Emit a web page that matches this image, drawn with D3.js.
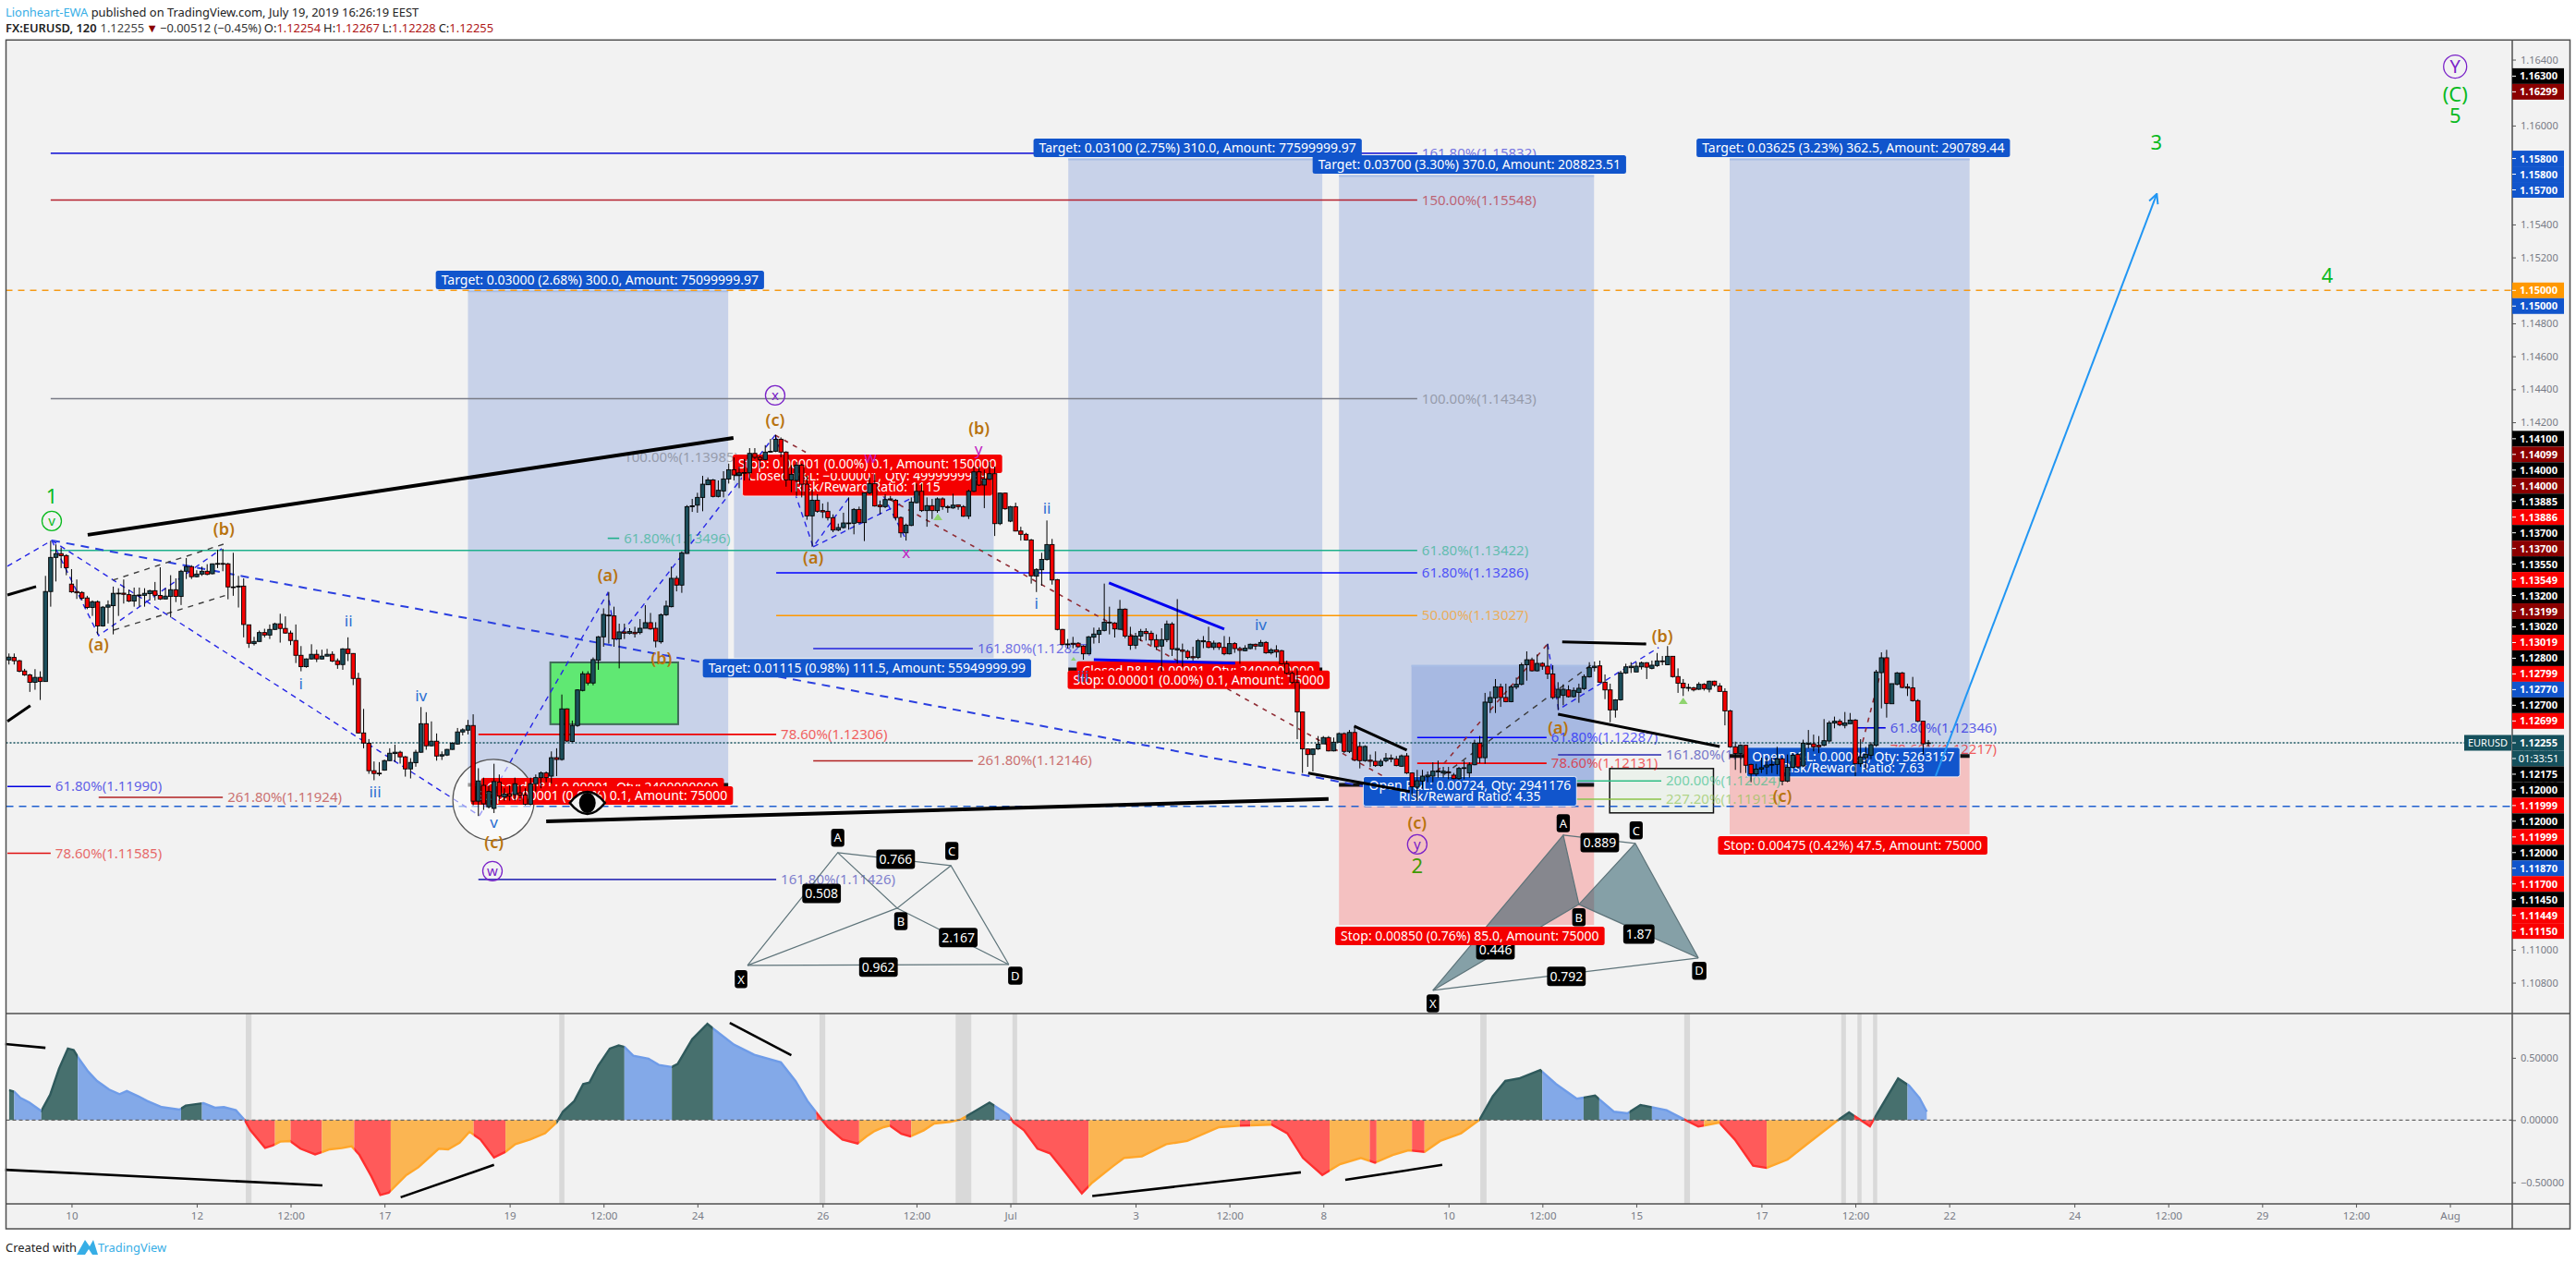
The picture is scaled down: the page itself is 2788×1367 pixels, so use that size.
<!DOCTYPE html>
<html><head><meta charset="utf-8">
<script src="https://d3js.org/d3.v7.min.js"></script>
<style>html,body{margin:0;background:#fff}svg{display:block}text{font-family:"Noto Sans",sans-serif}</style>
</head><body><svg id="c" width="2788" height="1367"></svg>
<script>
// Candle values: [open, high, low, close], in 0.00001 above 1.10000, one row per 2-hour bar
const ohlc=[
[2758,2797,2730,2775],[2773,2797,2730,2753],[2753,2758,2683,2689],[2691,2704,2661,2667],[2667,2674,2564,2622],[2622,2702,2577,2652],[2652,2689,2515,2627],[2627,3268,2627,3173],[3173,3481,3081,3380],[3380,3459,3234,3403],
[3403,3440,3315,3390],[3391,3399,3272,3317],[3218,3309,3165,3171],[3173,3246,3128,3165],[3167,3175,3119,3132],[3134,3147,3066,3076],[3076,3119,3025,3111],[3111,3119,2913,2964],[2964,3085,2960,3078],[3078,3119,2979,3091],
[3087,3203,2913,3162],[3160,3193,3025,3163],[3163,3246,3100,3156],[3154,3184,3109,3115],[3115,3197,3081,3150],[3148,3197,3081,3152],[3150,3193,3081,3162],[3160,3184,3119,3178],[3178,3231,3119,3150],[3149,3320,3122,3128],
[3128,3193,3128,3145],[3143,3272,3016,3184],[3184,3253,3109,3143],[3143,3305,3091,3296],[3296,3376,3249,3324],[3324,3333,3249,3263],[3263,3302,3259,3279],[3279,3324,3268,3296],[3296,3339,3272,3277],[3281,3343,3277,3341],
[3341,3427,3315,3343],[3343,3432,3296,3341],[3341,3347,3126,3201],[3201,3408,3147,3199],[3201,3268,3076,3206],[3206,3253,2895,2973],[2971,2972,2831,2859],[2857,2898,2846,2870],[2870,2936,2868,2924],[2924,2947,2895,2909],
[2909,2973,2885,2943],[2943,2984,2939,2977],[2977,3038,2863,2949],[2949,3022,2917,2921],[2921,2936,2848,2876],[2876,2973,2739,2786],[2786,2842,2689,2717],[2717,2767,2711,2764],[2764,2853,2760,2792],[2792,2820,2745,2764],
[2764,2820,2760,2781],[2781,2825,2779,2792],[2792,2810,2745,2751],[2753,2767,2704,2730],[2730,2829,2698,2825],[2825,2895,2751,2797],[2797,2799,2605,2646],[2646,2680,2312,2315],[2315,2461,2222,2254],[2252,2278,2067,2086],
[2086,2142,2028,2069],[2071,2138,2054,2067],[2089,2153,2086,2147],[2147,2222,2144,2192],[2190,2244,2138,2198],[2198,2207,2129,2170],[2170,2175,2050,2097],[2097,2162,2039,2136],[2134,2213,2110,2198],[2198,2472,2194,2371],
[2371,2441,2213,2237],[2237,2385,2233,2265],[2265,2312,2147,2175],[2175,2203,2151,2183],[2181,2218,2175,2215],[2215,2259,2213,2252],[2248,2345,2244,2321],[2321,2343,2300,2334],[2332,2394,2306,2360],[2360,2428,1876,1901],
[1901,2101,1811,2024],[1997,2044,1848,1885],[1867,1997,1857,1960],[1857,2128,1829,2020],[2016,2063,1904,1932],[1926,1979,1904,1945],[1945,1997,1904,1932],[1941,2044,1904,2007],[1951,1997,1904,1938],[1938,1979,1876,1882],
[1882,2044,1876,2007],[2007,2063,1960,2044],[2044,2081,1979,2072],[2072,2081,2016,2044],[2053,2203,2007,2165],[2165,2222,2053,2154],[2154,2548,2147,2461],[2461,2464,2259,2266],[2263,2390,2259,2360],[2360,2580,2352,2576],
[2573,2689,2567,2674],[2674,2689,2604,2618],[2618,2773,2604,2760],[2756,2903,2698,2898],[2898,3071,2838,3034],[3030,3170,2857,3025],[3025,3081,2838,2885],[2885,2978,2707,2928],[2928,2978,2885,2920],[2920,2950,2913,2931],
[2926,2959,2894,2917],[2924,3006,2913,2950],[2950,3090,2950,2984],[2984,3043,2941,2946],[2950,2987,2834,2872],[2868,3040,2857,3032],[3032,3118,3025,3085],[3081,3324,3077,3253],[3253,3268,3174,3212],[3212,3417,3165,3408],
[3404,3697,3402,3688],[3688,3735,3656,3693],[3697,3772,3651,3744],[3744,3875,3660,3824],[3821,3865,3819,3850],[3850,3856,3744,3750],[3750,3847,3744,3787],[3783,3903,3744,3856],[3856,3949,3828,3912],[3912,3987,3847,3880],
[3880,3931,3800,3893],[3893,3977,3847,3895],[3893,4043,3847,4011],[4011,4043,3977,3987],[3987,3996,3921,3974],[3974,4061,3968,4019],[4019,4099,4015,4024],[4024,4123,4019,4097],[4097,4108,3987,4019],[4019,4024,3809,3850],
[3850,3940,3776,3884],[3847,3959,3753,3940],[3940,3949,3744,3824],[3824,3875,3608,3632],[3632,3791,3445,3727],[3727,3763,3651,3660],[3664,3707,3619,3656],[3660,3716,3604,3621],[3621,3641,3533,3546],[3546,3585,3539,3561],
[3561,3651,3555,3589],[3589,3744,3548,3585],[3587,3679,3520,3671],[3671,3688,3585,3591],[3591,3772,3479,3772],[3772,3865,3763,3828],[3828,3884,3688,3692],[3697,3725,3641,3688],[3688,3763,3679,3731],[3735,3753,3727,3729],
[3727,3735,3604,3622],[3622,3628,3501,3529],[3529,3585,3482,3576],[3574,3744,3570,3716],[3712,3828,3707,3781],[3781,3828,3656,3664],[3664,3744,3566,3694],[3694,3735,3613,3664],[3664,3744,3651,3735],[3735,3744,3669,3688],
[3688,3697,3651,3682],[3680,3766,3675,3697],[3699,3701,3669,3688],[3688,3697,3626,3630],[3630,3791,3613,3781],[3781,3931,3776,3899],[3899,3931,3813,3819],[3819,3912,3679,3856],[3854,3959,3850,3888],[3888,3931,3510,3585],
[3585,3772,3576,3770],[3770,3772,3669,3675],[3600,3692,3594,3688],[3688,3712,3538,3540],[3540,3566,3482,3520],[3520,3529,3482,3486],[3486,3492,3221,3268],[3266,3314,3170,3307],[3305,3408,3208,3368],[3367,3604,3361,3458],
[3458,3492,3215,3243],[3245,3249,2937,2943],[2943,2946,2847,2851],[2855,2885,2829,2851],[2859,2898,2829,2853],[2859,2866,2834,2838],[2842,2847,2759,2795],[2795,2903,2791,2898],[2896,2954,2857,2915],[2913,2954,2860,2937],
[2937,3221,2931,2987],[2987,3081,2913,2982],[2982,2987,2894,2946],[2944,3122,2941,3066],[3066,3071,2890,2903],[2903,2959,2819,2847],[2847,2922,2825,2903],[2903,2946,2872,2931],[2931,2950,2875,2918],[2920,2935,2847,2879],
[2881,2913,2819,2838],[2842,2950,2688,2881],[2881,2997,2866,2976],[2976,2987,2782,2823],[2819,3127,2735,2827],[2819,2857,2717,2810],[2810,2819,2763,2773],[2778,2838,2754,2771],[2773,2885,2763,2875],[2868,2903,2829,2875],
[2868,2959,2829,2834],[2834,2875,2819,2860],[2860,2866,2819,2834],[2834,2903,2786,2795],[2795,2898,2791,2857],[2857,2866,2801,2827],[2827,2838,2735,2816],[2814,2847,2810,2829],[2827,2857,2823,2853],[2853,2857,2819,2842],
[2842,2879,2838,2864],[2864,2872,2795,2801],[2801,2829,2791,2819],[2819,2847,2773,2806],[2814,2819,2730,2735],[2735,2754,2670,2677],[2677,2688,2614,2621],[2621,2707,2277,2442],[2442,2445,2072,2218],[2218,2221,2109,2184],
[2184,2221,2081,2218],[2218,2296,2212,2247],[2249,2296,2249,2287],[2287,2296,2203,2206],[2206,2287,2203,2259],[2259,2318,2259,2311],[2311,2318,2193,2203],[2203,2333,2193,2318],[2318,2352,2147,2150],[2233,2259,2100,2147],
[2147,2240,2140,2233],[2150,2184,2109,2143],[2143,2203,2109,2117],[2117,2156,2109,2143],[2147,2193,2137,2162],[2163,2184,2137,2156],[2158,2175,2113,2117],[2113,2184,2109,2176],[2176,2193,2066,2072],[2072,2076,1932,1988],
[1986,2091,1904,2025],[2023,2091,1978,2053],[2049,2081,2016,2059],[2053,2137,2016,2083],[2079,2147,2044,2085],[2072,2109,2044,2083],[2079,2109,2034,2072],[2059,2072,2034,2038],[2038,2109,2031,2100],[2100,2147,2034,2104],
[2072,2137,2044,2122],[2122,2274,2119,2253],[2253,2296,2132,2165],[2165,2558,2128,2502],[2500,2567,2436,2530],[2528,2642,2436,2595],[2595,2614,2473,2530],[2530,2614,2501,2505],[2505,2604,2501,2595],[2593,2651,2580,2610],
[2610,2741,2604,2729],[2729,2810,2632,2759],[2759,2772,2688,2692],[2692,2791,2688,2737],[2737,2744,2698,2720],[2720,2856,2642,2673],[2673,2726,2520,2530],[2530,2623,2455,2580],[2543,2610,2483,2580],[2576,2604,2530,2535],
[2535,2591,2530,2573],[2561,2614,2498,2586],[2584,2670,2576,2657],[2655,2744,2651,2711],[2711,2748,2688,2720],[2722,2754,2619,2623],[2623,2670,2520,2576],[2576,2614,2380,2455],[2455,2520,2408,2516],[2516,2692,2511,2679],
[2679,2735,2673,2716],[2711,2744,2679,2720],[2685,2744,2685,2720],[2716,2748,2700,2741],[2741,2744,2642,2714],[2707,2754,2701,2726],[2724,2800,2716,2752],[2752,2782,2726,2748],[2729,2842,2726,2780],[2780,2782,2651,2657],
[2657,2707,2558,2617],[2617,2642,2539,2589],[2591,2614,2567,2586],[2589,2595,2567,2576],[2580,2623,2576,2610],[2610,2617,2572,2584],[2580,2632,2561,2629],[2629,2632,2595,2604],[2600,2617,2567,2567],[2567,2586,2361,2449],
[2449,2455,2225,2231],[2231,2262,2091,2190],[2190,2246,2072,2240],[2240,2240,2072,2119],[2124,2128,2016,2066],[2066,2128,2053,2096],[2096,2165,2072,2104],[2109,2165,2063,2120],[2120,2165,2072,2124],[2124,2231,2063,2158],
[2158,2165,1997,2023],[2023,2184,2016,2106],[2106,2193,2100,2180],[2184,2193,2100,2109],[2115,2274,2109,2253],[2246,2333,2221,2251],[2249,2305,2203,2231],[2240,2296,2193,2231],[2240,2399,2234,2268],[2266,2389,2259,2376],
[2375,2414,2343,2386],[2386,2399,2356,2365],[2361,2442,2343,2376],[2371,2436,2371,2393],[2393,2399,2053,2128],[2128,2277,2109,2169],[2165,2231,2091,2184],[2180,2259,2156,2244],[2240,2698,2231,2685],[2681,2804,2464,2771],
[2771,2819,2408,2494],[2492,2614,2492,2614],[2610,2685,2604,2679],[2679,2685,2586,2591],[2595,2614,2539,2587],[2589,2655,2505,2511],[2511,2520,2380,2386],[2386,2389,2184,2249],[2254,2272,2231,2255]];

// Oscillator line: [bar, value]
const oscPoints=[[0,.24],[1,.228],[2.2,.178],[3.9,.141],[6.2,.072],[7.9,.203],[9.6,.413],[11.3,.574],[12.4,.562],[13.5,.488],[15.2,.389],[16.9,.314],[19.2,.245],[21.2,.208],[22.6,.233],[24.8,.191],[26.5,.153],[29.3,.104],[32.7,.084],[33.9,.116],[37.3,.136],[39.5,.099],[41.2,.104],[43.5,.079],[45.2,0],[46.3,-.082],[49.1,-.223],[50.5,-.205],[52,-.173],[53.9,-.168],[55.9,-.23],[58.7,-.275],[60.2,-.255],[61.5,-.235],[63.8,-.225],[65.7,-.21],[67.2,-.28],[69.5,-.453],[71.2,-.601],[72.8,-.584],[76.2,-.441],[78.5,-.379],[82.4,-.23],[84.2,-.235],[86.4,-.181],[88.3,-.094],[90.4,-.156],[93,-.3],[95.2,-.255],[97.1,-.193],[99.9,-.156],[102.8,-.106],[105,-.02],[106.2,.067],[108.4,.153],[110.1,.29],[111.3,.302],[113,.438],[115.2,.574],[116.9,.599],[118,.587],[119.7,.517],[122.6,.493],[124.6,.443],[127.1,.426],[128.2,.45],[131,.649],[133.9,.772],[135,.735],[139,.606],[142.9,.525],[148,.463],[150.8,.314],[153.1,.153],[155.9,0],[157,-.057],[159.8,-.156],[162.7,-.188],[164.4,-.131],[166,-.087],[167.7,-.057],[168.9,-.045],[171.1,-.111],[172.8,-.131],[175.4,-.082],[177.4,-.027],[180.4,-.015],[182.5,.005],[184.5,.054],[188,.141],[191.6,.042],[192.6,-.02],[194.6,-.082],[197.2,-.23],[199.6,-.267],[202.7,-.428],[205.7,-.589],[207.7,-.502],[211.8,-.366],[213.8,-.304],[217.2,-.292],[221.9,-.193],[225.9,-.168],[232,-.057],[236,-.045],[242.1,-.037],[245.1,-.106],[248.1,-.304],[251.8,-.441],[255.2,-.354],[259.2,-.304],[261.9,-.342],[265.3,-.28],[268.3,-.243],[271.4,-.255],[274.4,-.168],[278.4,-.106],[281.9,0],[284.5,.191],[286.9,.314],[289.5,.334],[293.6,.401],[296.6,.29],[300.6,.171],[304.1,.196],[307.7,.067],[310.3,.054],[312.8,.121],[317.8,.079],[321.2,.005],[323.9,-.052],[327.9,-.02],[330.9,-.156],[334.4,-.366],[337,-.384],[341,-.317],[345.1,-.181],[350.7,0],[352.8,.062],[354.2,.022],[356.8,-.05],[358.2,.054],[362.2,.334],[364.3,.277],[366.3,.178],[367.7,.067]];
// Oscillator colour states: [from bar, to bar, state]
const oscStates=[[0,1,'d'],[1,6.2,'b'],[6.2,13.2,'d'],[13.2,33,'b'],[33,37,'d'],[37,45.2,'b'],[45.2,51,'r'],[51,54,'o'],[54,60,'r'],[60,66.2,'o'],[66.2,73.2,'r'],[73.2,89.1,'o'],[89.1,95.2,'r'],[95.2,105,'o'],[105,118,'d'],[118,127.1,'b'],[127.1,135,'d'],[135,154.8,'b'],[154.8,163,'r'],[163,168.9,'o'],[168.9,173,'r'],[173,183.5,'o'],[183.5,189,'d'],[189,192,'b'],[192,207,'r'],[207,236,'o'],[236,238,'r'],[238,242,'o'],[242,253.2,'r'],[253.2,260.9,'o'],[260.9,262.2,'r'],[262.2,269,'o'],[269,271.4,'r'],[271.4,281.9,'o'],[281.9,294,'d'],[294,301.9,'b'],[301.9,304.9,'d'],[304.9,310.7,'b'],[310.7,315,'d'],[315,321.2,'b'],[321.2,325,'r'],[325,328,'o'],[328,337,'r'],[337,350.7,'o'],[350.7,353.8,'d'],[353.8,357.6,'r'],[357.6,364,'d'],[364,368,'b']];
const oscBands=[[45.4,46.5],[105.5,106.5],[155.4,156.5],[181.5,184.5],[192.4,193.3],[282.1,283.3],[321.2,322.3],[351.3,352.2],[354.4,355.2],[357.4,358.2]];
const oscTrend=[[-.7,.61,7,.58],[-.7,-.399,60.1,-.525],[75.1,-.62,93,-.36],[138.2,.78,150,.52],[207.7,-.61,247.7,-.42],[256.2,-.48,274.8,-.36]];

// Axis labels
const priceTicks=d3.range(1.108,1.1641,.002);
const timeBars=[12,36,54,72,96,114,132,156,174,192,216,234,252,276,294,312,336,354,372,396,414,432,450,468];
const timeLabels=['10','12','12:00','17','19','12:00','24','26','12:00','Jul','3','12:00','8','10','12:00','15','17','12:00','22','24','12:00','29','12:00','Aug'];
// Axis tags: [price, text, colour key]
const priceTags=[[1.163,'1.16300','k'],[1.16299,'1.16299','m'],[1.158,'1.15800','b'],[1.158,'1.15800','b'],[1.157,'1.15700','b'],[1.15,'1.15000','a'],[1.15,'1.15000','b'],[1.141,'1.14100','k'],[1.14099,'1.14099','m'],[1.14,'1.14000','k'],[1.14,'1.14000','m'],[1.13885,'1.13885','k'],[1.13886,'1.13886','r'],[1.137,'1.13700','k'],[1.137,'1.13700','m'],[1.1355,'1.13550','k'],[1.13549,'1.13549','r'],[1.132,'1.13200','k'],[1.13199,'1.13199','m'],[1.1302,'1.13020','k'],[1.13019,'1.13019','r'],[1.128,'1.12800','k'],[1.12799,'1.12799','r'],[1.1277,'1.12770','b'],[1.127,'1.12700','k'],[1.12699,'1.12699','r'],[1.12255,'1.12255','t'],[1.1220,'01:33:51','t'],[1.12175,'1.12175','k'],[1.12,'1.12000','k'],[1.11999,'1.11999','r'],[1.12,'1.12000','k'],[1.11999,'1.11999','r'],[1.12,'1.12000','k'],[1.1187,'1.11870','b'],[1.117,'1.11700','r'],[1.1145,'1.11450','k'],[1.11449,'1.11449','r'],[1.1115,'1.11150','r']];

// Fibonacci levels: [percent, price, from bar, to bar, colour]
const fibLevels=[['161.80%',1.15832,8,270,'#2a2ad8'],['150.00%',1.15548,8,270,'#b5202e'],['100.00%',1.14343,8,270,'#787b86'],['61.80%',1.13422,8,270,'#1fb08c'],['61.80%',1.13286,147.1,270,'#0000ff'],['50.00%',1.13027,147.1,270,'#ff9800'],['161.80%',1.12827,154.2,184.8,'#2222dd'],['261.80%',1.12146,154.2,184.8,'#b22222'],['78.60%',1.12306,90,147.1,'#f00000'],['61.80%',1.1199,-.3,8,'#0000e0'],['261.80%',1.11924,17.2,41,'#b22222'],['161.80%',1.11426,90,147.1,'#3838b8'],['78.60%',1.11585,-.3,8,'#e01010'],['100.00%',1.13985,117,117,'#787b86'],['61.80%',1.13496,114.8,117,'#1fb08c'],['61.80%',1.12287,270,294.8,'#0000ff'],['78.60%',1.12131,270,294.8,'#f00000'],['161.80%',1.12182,297,316.8,'#2a2ab0'],['200.00%',1.12024,297,316.8,'#2ebd85'],['227.20%',1.11913,297,316.8,'#8bc34a'],['61.80%',1.12346,354.4,359.8,'#0000e0'],['78.60%',1.12217,354.4,359.8,'#f00000']];

// Position tools: [from bar, to bar, upper price, lower price, kind]
const positionRects=[[88,137.9,1.15,1.12,'b'],[139,188.8,1.13885,1.1277,'b'],[203.1,251.8,1.158,1.127,'b'],[255,303.9,1.157,1.12,'b'],[255,303.9,1.12,1.1115,'r'],[268.9,303.9,1.12727,1.12,'b'],[329.9,375.9,1.158,1.12175,'b'],[329.9,375.9,1.12175,1.117,'r']];
const entryLines=[[255,303.9,1.12],[329.9,375.9,1.12175],[88,137.9,1.12],[139,188.8,1.13885],[203.1,251.8,1.127]];
// Label boxes: [centre bar, centre price, colour key, text lines]
const labelBoxes=[
[113.3,1.15064,'b',['Target: 0.03000 (2.68%) 300.0, Amount: 75099999.97']],
[164.5,1.12707,'b',['Target: 0.01115 (0.98%) 111.5, Amount: 55949999.99']],
[227.9,1.15865,'b',['Target: 0.03100 (2.75%) 310.0, Amount: 77599999.97']],
[280,1.15764,'b',['Target: 0.03700 (3.30%) 370.0, Amount: 208823.51']],
[353.6,1.15865,'b',['Target: 0.03625 (3.23%) 362.5, Amount: 290789.44']],
[113.8,1.11986,'r',['Closed P&L: 0.00001, Qty: 2400000000']],
[113.7,1.11936,'r',['Stop: 0.00001 (0.00%) 0.1, Amount: 75000']],
[164.6,1.13842,'r',['Closed P&L: −0.00001, Qty: 4999999999','Risk/Reward Ratio: 1115']],
[164.6,1.13948,'r',['Stop: 0.00001 (0.00%) 0.1, Amount: 150000']],
[228,1.12693,'r',['Closed P&L: 0.00001, Qty: 2400000000']],
[228.1,1.12637,'r',['Stop: 0.00001 (0.00%) 0.1, Amount: 75000']],
[280.1,1.11084,'r',['Stop: 0.00850 (0.76%) 85.0, Amount: 75000']],
[280.1,1.11961,'b',['Open P&L: 0.00724, Qty: 2941176','Risk/Reward Ratio: 4.35']],
[353.5,1.11633,'r',['Stop: 0.00475 (0.42%) 47.5, Amount: 75000']],
[353.6,1.12138,'b',['Open P&L: 0.00080, Qty: 5263157','Risk/Reward Ratio: 7.63']]];

// Drawn lines: vertices [bar, 0.00001 above 1.1]
const blueZigzags=[[[-.3,3326],[8.2,3483]],[[8.2,3483],[17.2,2906],[40.8,3433]],[[90.2,1813],[114.8,3164],[116.4,2878],[146.9,4122]],[[146.9,4122],[154.2,3444],[165,3915],[171.9,3494]],[[154.2,3444],[168.9,3674],[184.7,3926]],[[295,2855],[297.1,2457],[316.3,2833]],[[8.2,3483],[90.2,1813]]];
const blueTrend=[[8.2,3483],[260.5,1987]];
const redDashes=[[[146.9,4122],[269.7,1942]],[[270,1942],[295,2855]],[[355.4,2261],[359.8,2799]]];
const blackDashes=[[[19.9,3242],[41.2,3461]],[[20.1,2939],[42.4,3158]],[[270,1942],[304,2743]]];
const blackLines=[[15.1,3517,138.9,4105,4],[103,1779,253,1914,4],[-.3,3152,5.2,3203,3],[-.3,2385,4.1,2480,3],[257.9,2356,268,2211,3],[249.1,2071,268.6,1959,3],[297.8,2867,313.9,2855,3],[297,2429,328,2233,3]];
const blueLines=[[210.9,3225,233,2945],[208,2760,235.1,2738]];
const projectionArrow=[[369.4,2054],[411.8,5585]];
const demandZone=[103.8,128.3,2743,2368];
const noteBox=[306.9,326.8,2099,1830];
// Harmonic patterns: points X A B C D as [bar, v]; labels
const harmonic1=[[141.6,905],[158.9,1589],[170.3,1252],[180.6,1510],[191.7,910]];
const harmonic1Ratios=[[155.8,1342,'0.508'],[170,1549,'0.766'],[182,1073,'2.167'],[166.7,894,'0.962']];
const harmonic2=[[273,753],[298,1695],[301,1275],[311.8,1645],[323.9,950]];
const harmonic2Ratios=[[305,1650,'0.889'],[312.5,1095,'1.87'],[285,1000,'0.446'],[298.6,838,'0.792']];
const harmonicNames=['X','A','B','C','D'];
// Wave labels: [bar, v, text, colour key, circled?]
const waveLabels=[[8.2,3747,'1','g',0],[8.2,3601,'v','g',1],[17.2,2850,'(a)','n',0],[41.2,3550,'(b)','n',0],[56,2614,'i','u',0],[65.1,2995,'ii','u',0],[70.2,1958,'iii','u',0],[79,2541,'iv','u',0],[93,1768,'v','u',0],[93,1650,'(c)','n',0],[92.7,1477,'w','p',1],[114.8,3270,'(a)','n',0],[125.1,2766,'(b)','n',0],[146.9,4212,'(c)','n',0],[146.9,4363,'x','p',1],[154.2,3377,'(a)','n',0],[165.2,3987,'w','v',0],[172,3405,'x','v',0],[185.9,4038,'y','v',0],[186,4161,'(b)','n',0],[199,3674,'ii','u',0],[197,3102,'i','u',0],[205.9,2659,'iii','u',0],[240,2973,'iv','u',0],[270,1768,'(c)','n',0],[270,1639,'y','p',1],[270,1504,'2','o',0],[297,2345,'(a)','n',0],[317,2900,'(b)','n',0],[340,1930,'(c)','n',0],[469,6358,'Y','p',1],[469,6185,'(C)','g',0],[469,6056,'5','g',0],[411.7,5893,'3','g',0],[444.5,5086,'4','g',0]];
const triangles=[[178.1,3606,7],[321,2491,7],[204.1,2754,4]];
const circleMark=[92.9,1908];
const eyeMark=[110.9,1891];

const svg=d3.select('#c');
const P={l:6.5,r:2719,R:2781.5,t:43.3,m:1097,a:1303,b:1330};
const x=d3.scaleLinear().domain([0,368]).range([9.7,9.7+368*5.645]);
const y=d3.scaleLinear().domain([1.15,1.12255]).range([314.3,804]);
const osc=d3.scaleLinear().domain([0,.5]).range([1212.3,1144.9]);
const pv=v=>1.1+v/1e5, yv=v=>y(pv(v));
const lineV=d3.line().x(d=>x(d[0])).y(d=>yv(d[1]));

svg.append('rect').attr('x',P.l).attr('y',P.t).attr('width',P.R-P.l).attr('height',P.b-P.t).attr('fill','#f2f2f2');
const defs=svg.append('defs');
defs.append('clipPath').attr('id','mainClip').append('rect').attr('x',P.l).attr('y',P.t).attr('width',P.r-P.l).attr('height',P.m-P.t);
defs.append('marker').attr('id','arr').attr('viewBox','0 0 12 12').attr('refX',11).attr('refY',6).attr('markerWidth',12).attr('markerHeight',12).attr('orient','auto').attr('markerUnits','userSpaceOnUse').append('path').attr('d','M1,1L11,6L1,11').attr('fill','none').attr('stroke','#2196f3').attr('stroke-width',2);
const main=svg.append('g').attr('clip-path','url(#mainClip)');

// position rectangles
const fillPos={b:'rgba(33,87,202,.2)',r:'rgba(255,0,0,.2)'};
main.selectAll('.pos').data(positionRects).join('rect').attr('x',d=>x(d[0])).attr('width',d=>x(d[1])-x(d[0])).attr('y',d=>y(d[2])).attr('height',d=>y(d[3])-y(d[2])).attr('fill',d=>fillPos[d[4]]);
main.selectAll('.topb').data(positionRects.filter(d=>d[4]=='b')).join('line').attr('x1',d=>x(d[0])).attr('x2',d=>x(d[1])).attr('y1',d=>y(d[2])+1).attr('y2',d=>y(d[2])+1).attr('stroke','#a8bee6').attr('stroke-width',2);
main.selectAll('.ent').data(entryLines).join('line').attr('x1',d=>x(d[0])).attr('x2',d=>x(d[1])).attr('y1',d=>y(d[2])).attr('y2',d=>y(d[2])).attr('stroke','#111').attr('stroke-width',4);

// zones
main.append('rect').attr('x',x(noteBox[0])).attr('width',x(noteBox[1])-x(noteBox[0])).attr('y',yv(noteBox[2])).attr('height',yv(noteBox[3])-yv(noteBox[2])).attr('fill','rgba(220,240,220,.3)').attr('stroke','#111').attr('stroke-width',1.5);
main.append('rect').attr('x',x(demandZone[0])).attr('width',x(demandZone[1])-x(demandZone[0])).attr('y',yv(demandZone[2])).attr('height',yv(demandZone[3])-yv(demandZone[2])).attr('fill','#60e873').attr('stroke','#3f6a57').attr('stroke-width',2);

// fib levels
main.selectAll('.fl').data(fibLevels.filter(d=>d[3]>d[2])).join('line').attr('x1',d=>x(d[2])).attr('x2',d=>x(d[3])).attr('y1',d=>y(d[1])).attr('y2',d=>y(d[1])).attr('stroke',d=>d[4]).attr('stroke-width',1.6);
main.selectAll('.ft').data(fibLevels).join('text').attr('x',d=>x(d[3])+5).attr('y',d=>y(d[1])+5).attr('font-size',15).attr('fill',d=>d[4]).attr('opacity',.62).text(d=>`${d[0]}(${d[1].toFixed(5)})`);

// full-width price lines
const hLine=(p,c,da,w)=>main.append('line').attr('x1',P.l).attr('x2',P.r).attr('y1',y(p)).attr('y2',y(p)).attr('stroke',c).attr('stroke-dasharray',da).attr('stroke-width',w);
hLine(1.15,'#f59a16','7,6',1.6);
hLine(1.1187,'#1e5fd0','8,6',1.6);
hLine(1.12255,'#15505c','2,2',1.4);

// zigzags
const path=(pts,c,da,w)=>main.append('path').attr('d',lineV(pts)).attr('fill','none').attr('stroke',c).attr('stroke-dasharray',da).attr('stroke-width',w);
blueZigzags.forEach(p=>path(p,'#2626e6','6,5',1.4));
path(blueTrend,'#2a3fe0','9,7',2);
redDashes.forEach(p=>path(p,'#8f2b33','5,6',1.6));
blackDashes.forEach(p=>path(p,'#3c3c3c','6,6',1.4));

// harmonics
function harmonic(pts,rat,fill,letterOff){
  const g=main.append('g');
  const [X,A,B,C,D]=pts;
  if(fill){g.append('path').attr('d',lineV([X,A,B,X])+'Z').attr('fill',fill);g.append('path').attr('d',lineV([B,C,D,B])+'Z').attr('fill',fill);}
  g.append('path').attr('d',lineV([X,A,B,C,D])).attr('fill','none').attr('stroke','#5d7379').attr('stroke-width',1.2);
  [[X,B],[A,C],[B,D],[X,D]].forEach(s=>g.append('path').attr('d',lineV(s)).attr('fill','none').attr('stroke','#5d7379').attr('stroke-width',1.2));
  const tag=(cx,cy,t,fs)=>{
    const tx=g.append('text').attr('x',cx).attr('y',cy+fs*.36).attr('text-anchor','middle').attr('font-size',fs).attr('fill','#fff').text(t);
    const w=tx.node().getComputedTextLength();
    g.insert('rect','text:last-child').attr('x',cx-w/2-3).attr('y',cy-fs*.75).attr('width',w+6).attr('height',fs*1.5).attr('rx',3).attr('fill','#000');
    tx.raise();
  };
  rat.forEach(r=>tag(x(r[0]),yv(r[1]),r[2],14));
  pts.forEach((p,i)=>tag(x(p[0])+letterOff[i][0],yv(p[1])+letterOff[i][1],harmonicNames[i],13));
}
harmonic(harmonic1,harmonic1Ratios,null,[[-7,15],[0,-16],[4,14],[1,-16],[7,12]]);
harmonic(harmonic2,harmonic2Ratios,'rgba(23,77,92,.5)',[[0,14],[0,-13],[0,14],[1,-14],[1,14]]);

// circle around v
main.append('circle').attr('cx',x(circleMark[0])).attr('cy',yv(circleMark[1])).attr('r',44).attr('fill','rgba(255,255,255,.55)').attr('stroke','#555').attr('stroke-width',1.2);

// label boxes
const boxFill={b:'#1155cc',r:'#f50000'};
function box(d){
  const g=main.append('g');
  const cx=x(d[0]),cy=y(d[1]),n=d[3].length,lh=12;
  const ts=d[3].map((t,i)=>g.append('text').attr('x',cx).attr('y',cy-(n-1)*lh/2+(i)*lh+5).attr('text-anchor','middle').attr('font-size',14).attr('fill','#fff').text(t));
  const w=d3.max(ts,t=>t.node().getComputedTextLength());
  g.insert('rect','text').attr('x',cx-w/2-6).attr('y',cy-(lh*n+8)/2).attr('width',w+12).attr('height',lh*n+8).attr('rx',2.5).attr('fill',boxFill[d[2]]).attr('stroke',n>1?'#fff':'none').attr('stroke-width',.8);
}
labelBoxes.forEach(box);

// solid lines
main.selectAll('.bl').data(blackLines).join('line').attr('x1',d=>x(d[0])).attr('y1',d=>yv(d[1])).attr('x2',d=>x(d[2])).attr('y2',d=>yv(d[3])).attr('stroke','#000').attr('stroke-width',d=>d[4]);
main.selectAll('.ul').data(blueLines).join('line').attr('x1',d=>x(d[0])).attr('y1',d=>yv(d[1])).attr('x2',d=>x(d[2])).attr('y2',d=>yv(d[3])).attr('stroke','#0000f0').attr('stroke-width',3);
main.append('path').attr('d',lineV(projectionArrow)).attr('stroke','#2196f3').attr('stroke-width',2).attr('fill','none').attr('marker-end','url(#arr)');

// candles
const candles=main.append('g').selectAll('g').data(ohlc).join('g');
candles.append('line').attr('x1',(d,i)=>x(i)).attr('x2',(d,i)=>x(i)).attr('y1',d=>yv(d[1])).attr('y2',d=>yv(d[2])).attr('stroke','#000').attr('stroke-width',1);
candles.append('rect').attr('x',(d,i)=>x(i)-2.2).attr('width',4.4).attr('y',d=>yv(Math.max(d[0],d[3]))).attr('height',d=>Math.max(.8,Math.abs(yv(d[0])-yv(d[3])))).attr('fill',d=>d[3]>=d[0]?'#1c4f5c':'#f50000').attr('stroke','#000').attr('stroke-width',.9);

// wave labels
const waveCol={g:'#0aba1e',n:'#b8730f',u:'#2c6fd2',p:'#7a22c8',v:'#c21fc2',o:'#3f9a00'};
waveLabels.forEach(d=>{
  const cx=x(d[0]),cy=yv(d[1]),big=/^[1-5]$|^\(C\)$/.test(d[2]);
  const fs=big?22:d[2]=='Y'?20:d[2].startsWith('(')?18:/^[ivx]+$/.test(d[2])&&d[3]=='u'?17:(d[4]?15:17);
  if(d[4])main.append('circle').attr('cx',cx).attr('cy',cy).attr('r',d[2]=='Y'?12.5:10.5).attr('fill','none').attr('stroke',waveCol[d[3]]).attr('stroke-width',1.3);
  main.append('text').attr('x',cx).attr('y',cy+fs*.33).attr('text-anchor','middle').attr('font-size',fs).attr('font-weight',d[2].startsWith('(')&&!big?600:400).attr('fill',waveCol[d[3]]).text(d[2]);
});
main.selectAll('.tri').data(triangles).join('path').attr('d',d=>{const s=d[2],X=x(d[0]),Y=yv(d[1]);return `M${X},${Y-s}L${X+s*.7},${Y}L${X-s*.7},${Y}Z`}).attr('fill','#8fd46f');

// eye
const ex=x(eyeMark[0]),ey=yv(eyeMark[1]);
main.append('path').attr('d',`M${ex-19},${ey}Q${ex},${ey-24} ${ex+19},${ey}Q${ex},${ey+24} ${ex-19},${ey}Z`).attr('fill','#f2f2f2').attr('stroke','#000').attr('stroke-width',2.5);
main.append('ellipse').attr('cx',ex).attr('cy',ey).attr('rx',9).attr('ry',11).attr('fill','#000');

// oscillator
const oscG=svg.append('g');
oscG.selectAll('rect').data(oscBands).join('rect').attr('x',d=>x(d[0])).attr('width',d=>x(d[1])-x(d[0])).attr('y',P.m).attr('height',P.a-P.m).attr('fill','#d9d9d9');
const oscFill={d:'#47706e',b:'#83a9e8',r:'#ff5a5a',o:'#fbb552'}, oscLine={d:'#2f5a5c',b:'#6f9ce8',r:'#ff2f2f',o:'#ffa62a'};
const area=d3.area().x(d=>x(d[0])).y0(osc(0)).y1(d=>osc(d[1]));
const oscL=d3.line().x(d=>x(d[0])).y(d=>osc(d[1]));
oscStates.forEach((s,i)=>{
  defs.append('clipPath').attr('id','os'+i).append('rect').attr('x',x(s[0])).attr('y',P.m).attr('width',x(s[1])-x(s[0])).attr('height',P.a-P.m);
  oscG.append('path').attr('d',area(oscPoints)).attr('fill',oscFill[s[2]]).attr('clip-path',`url(#os${i})`);
  oscG.append('path').attr('d',oscL(oscPoints)).attr('fill','none').attr('stroke',oscLine[s[2]]).attr('stroke-width',2.4).attr('clip-path',`url(#os${i})`);
});
oscG.append('line').attr('x1',P.l).attr('x2',P.r).attr('y1',osc(0)).attr('y2',osc(0)).attr('stroke','#666').attr('stroke-dasharray','4,3').attr('stroke-width',1.3);
oscG.selectAll('.ot').data(oscTrend).join('line').attr('x1',d=>x(d[0])).attr('y1',d=>osc(d[1])).attr('x2',d=>x(d[2])).attr('y2',d=>osc(d[3])).attr('stroke','#000').attr('stroke-width',2.6);

// panes' frame
const frame=svg.append('g').attr('stroke','#4f4f4f').attr('stroke-width',1.5).attr('fill','none');
frame.append('rect').attr('x',P.l).attr('y',P.t).attr('width',P.R-P.l).attr('height',P.b-P.t);
[[P.l,P.m,P.R,P.m],[P.l,P.a,P.R,P.a],[P.r,P.t,P.r,P.b]].forEach(l=>frame.append('line').attr('x1',l[0]).attr('y1',l[1]).attr('x2',l[2]).attr('y2',l[3]));

// axes
const styleAxis=fs=>g=>{g.select('.domain').remove();g.selectAll('line').attr('stroke','#555');g.selectAll('text').attr('fill','#787b86').attr('font-size',fs).attr('font-family','"Noto Sans",sans-serif');};
svg.append('g').attr('transform',`translate(${P.r},0)`).call(d3.axisRight(y).tickValues(priceTicks).tickSize(4).tickPadding(5).tickFormat(d3.format('.5f'))).call(styleAxis(11));
svg.append('g').attr('transform',`translate(${P.r},0)`).call(d3.axisRight(osc).tickValues([.5,0,-.5]).tickSize(4).tickPadding(5).tickFormat(d3.format('.5f'))).call(styleAxis(11));
svg.append('g').attr('transform',`translate(0,${P.a})`).call(d3.axisBottom(x).tickValues(timeBars).tickSize(4).tickPadding(5).tickFormat((d,i)=>timeLabels[i])).call(styleAxis(11.5));

// axis tags, stacked downward
const tagCol={k:'#000',m:'#8b0000',r:'#fa0000',b:'#1155cc',a:'#ff9800',t:'#15505c'};
let prevY=-99;
priceTags.forEach(t=>{
  const ty=Math.max(y(t[0]),prevY+16.97);prevY=ty;
  const g=svg.append('g');
  g.append('rect').attr('x',P.r).attr('y',ty-8.5).attr('width',56).attr('height',17).attr('fill',tagCol[t[2]]);
  g.append('line').attr('x1',P.r).attr('x2',P.r+4).attr('y1',ty).attr('y2',ty).attr('stroke','#fff').attr('stroke-width',1);
  g.append('text').attr('x',P.r+28.5).attr('y',ty+4).attr('text-anchor','middle').attr('font-size',11).attr('font-weight',t[1].includes(':')?400:700).attr('fill','#fff').text(t[1]);
});
svg.append('rect').attr('x',2667).attr('y',y(1.12255)-8.5).attr('width',51).attr('height',17).attr('fill','#15505c');
svg.append('text').attr('x',2692.5).attr('y',y(1.12255)+4).attr('text-anchor','middle').attr('font-size',11).attr('fill','#fff').text('EURUSD');

// header and footer
const h1=svg.append('text').attr('x',6).attr('y',18).attr('font-size',12.9).attr('fill','#222');
h1.append('tspan').attr('fill','#37aee6').text('Lionheart-EWA');
h1.append('tspan').text(' published on TradingView.com, July 19, 2019 16:26:19 EEST');
const h2=svg.append('text').attr('x',6).attr('y',35).attr('font-size',12.9).attr('fill','#222');
h2.append('tspan').attr('font-weight',600).text('FX:EURUSD, 120');
h2.append('tspan').attr('dx',4).attr('fill','#444').text('1.12255');
h2.append('tspan').attr('dx',2).attr('fill','#8b0000').text('▼');
h2.append('tspan').attr('dx',2).attr('fill','#333').text('−0.00512 (−0.45%)');
[['O:','1.12254'],['H:','1.12267'],['L:','1.12228'],['C:','1.12255']].forEach(p=>{
  h2.append('tspan').attr('dx',3).text(p[0]);
  h2.append('tspan').attr('fill','#b01818').text(p[1]);
});
svg.append('text').attr('x',6).attr('y',1355).attr('font-size',12.9).attr('fill','#222').text('Created with');
svg.append('path').attr('d','M83,1358L92,1342L97,1349L101,1342L106,1358L100,1358L96,1352L92,1358Z').attr('fill','#37aee6');
svg.append('text').attr('x',106).attr('y',1355).attr('font-size',12.9).attr('fill','#37aee6').text('TradingView');
</script></body></html>
